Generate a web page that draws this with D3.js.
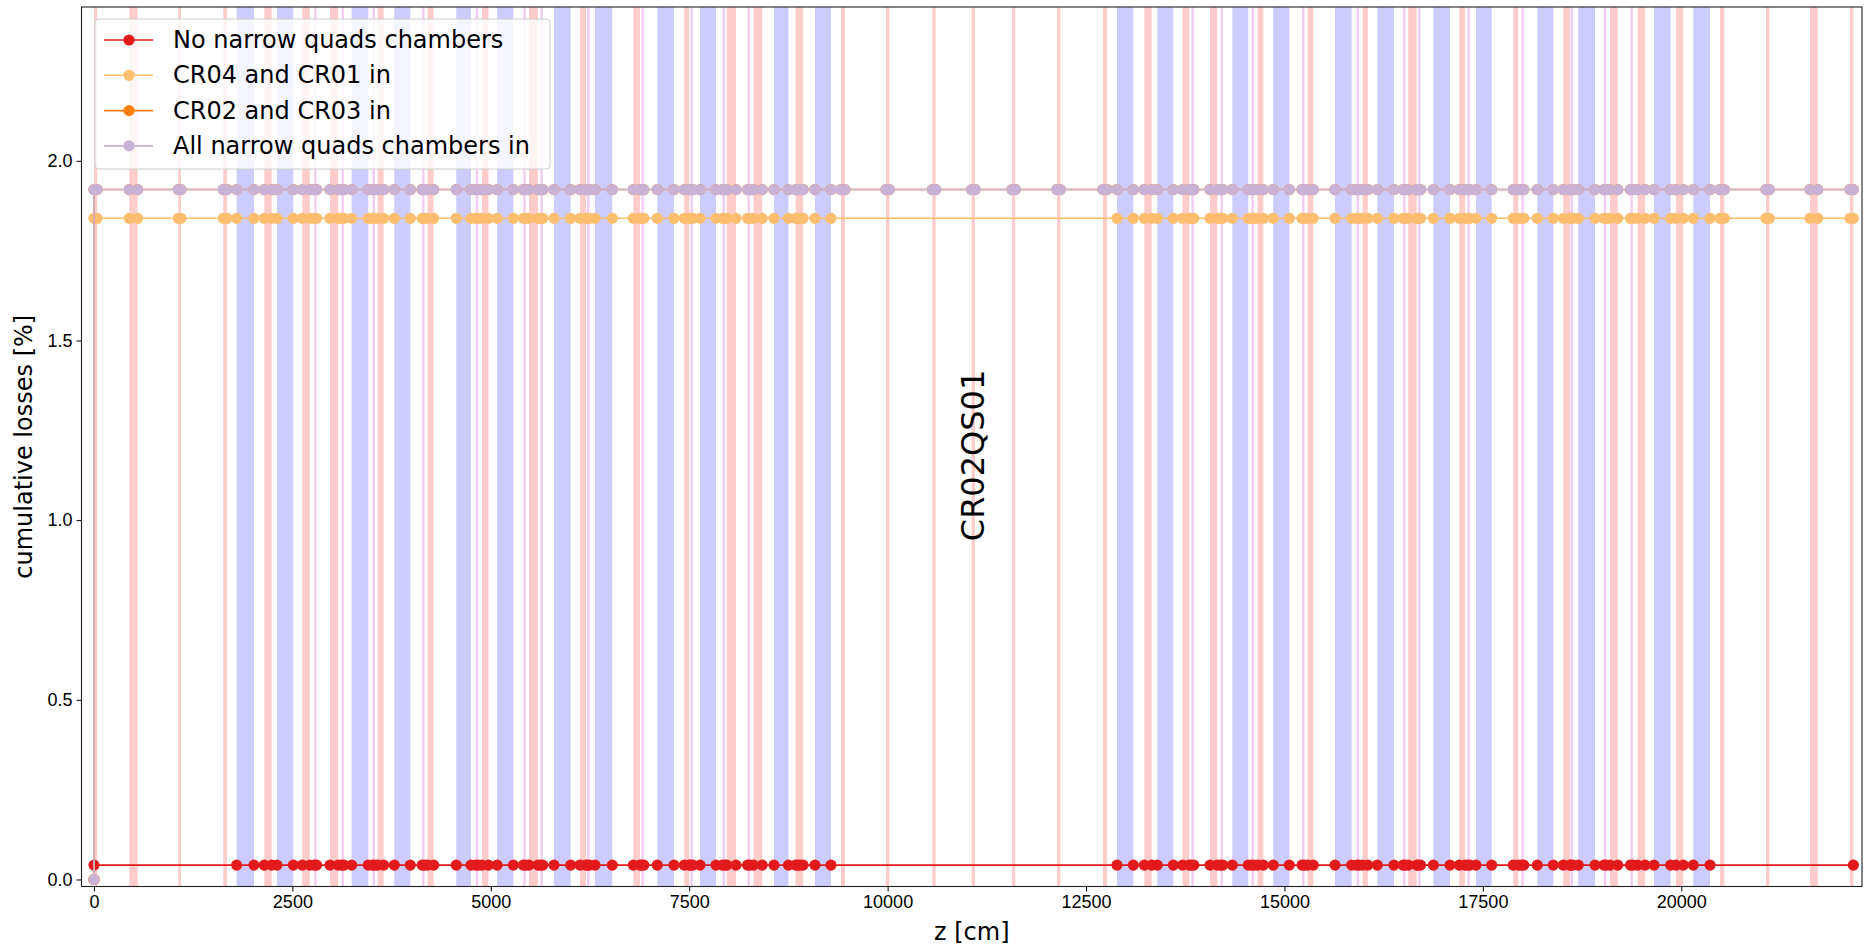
<!DOCTYPE html>
<html lang="en">
<head>
    <meta charset="UTF-8">
    <title>Cumulative losses along the ring</title>

    <script src="https://d3js.org/d3.v7.min.js"></script>

    <style>
        body { margin: 0; background: #fff; }
        svg { display: block; font-family: "DejaVu Sans", sans-serif; }
        .tick text { font-size: 18px; fill: #000; }
        .tick line { stroke: #000; }
        .legend_text { font-size: 24px; }
    </style>
</head>
<body>
<svg width="1866" height="945"></svg>

<script>
    // lattice elements along z [cm]
    const quads = [[0,40],[445,550],[1062,1096],[1630,1676],[2146,2239],[2625,2720],[2974,3076],[3575,3650],
        [4204,4280],[4889,4970],[5481,5594],[6124,6199],[6796,6880],[7438,7501],[7975,8089],[8310,8420],
        [8840,8935],[9412,9463],[9979,10021],[10563,10605],[11059,11101],[11567,11608],[12134,12176],
        [12713,12764],[13234,13327],[13717,13801],[14062,14154],[14660,14734],[15293,15363],[15985,16050],
        [16560,16666],[17203,17275],[17883,17946],[18513,18598],[19102,19199],[19450,19543],[19933,20025],
        [20488,20542],[21067,21109],[21622,21719],[22126,22168]];
    const dipoles = [[1798,2016],[2306,2512],[3247,3456],[3784,3986],[4565,4750],[5080,5284],[5796,6006],
        [6313,6531],[7098,7308],[7636,7837],[8568,8750],[9085,9286],[12890,13096],[13398,13600],
        [14343,14544],[14859,15061],[15637,15847],[16170,16380],[16876,17086],[17413,17611],[18186,18387],
        [18702,18913],[19656,19866],[20151,20362]];
    const sextupoles = [2790,3135,3525,4150,4825,5425,5640,6228,6913,7531,7935,8250,8880,
        13843,14209,14600,15237,15925,16510,16700,17320,18000,18620,19040,19375];
    const sextLength = 30;

    // loss series
    const seriesNames = ["No narrow quads chambers", "CR04 and CR01 in", "CR02 and CR03 in", "All narrow quads chambers in"];
    const seriesColors = ["#e31a1c", "#fdbf6f", "#ff7f00", "#cab2d6"];
    const seriesLevels = [0.04, 1.84, 1.92, 1.92];
    // z ranges where a series has no sample
    const seriesGaps = [[[1,1790],[9290,12880],[20370,22160]], [[9290,12880]], [], []];

    const xTicks = [0, 2500, 5000, 7500, 10000, 12500, 15000, 17500, 20000];
    const yTicks = [0.0, 0.5, 1.0, 1.5, 2.0];
    const label = {text: "CR02QS01", z: 11080, y: 1.18};

    let svg = d3.select("svg");
    const pLeft = 81.5, pRight = 1862, pTop = 7, pBottom = 886.5;

    const x = d3.scaleLinear().domain([-157, 22277]).range([pLeft, pRight]);
    const y = d3.scaleLinear().domain([-0.0195, 2.428]).range([pBottom, pTop]);

    svg.append("clipPath").attr("id", "plot")
        .append("rect").attr("x", pLeft).attr("y", pTop)
        .attr("width", pRight - pLeft).attr("height", pBottom - pTop);

    let plot = svg.append("g").attr("clip-path", "url(#plot)");

    // element bands
    function bands(data, color) {
        plot.append("g").selectAll("rect")
            .data(data)
            .join("rect")
            .attr("x", d => x(d[0]))
            .attr("width", d => Math.max(x(d[1]) - x(d[0]), 1))
            .attr("y", pTop)
            .attr("height", pBottom - pTop)
            .attr("fill", color);
    }
    bands(sextupoles.map(c => [c - sextLength / 2, c + sextLength / 2]), "#f2cdf2");
    bands(dipoles, "#ccccff");
    bands(quads, "#ffcccc");

    // sample positions = element edges
    let edges = [];
    quads.forEach(d => edges.push(d[0], d[1]));
    dipoles.forEach(d => edges.push(d[0], d[1]));
    sextupoles.forEach(c => edges.push(c - sextLength / 2, c + sextLength / 2));
    edges = Array.from(new Set(edges)).sort((a, b) => a - b);

    const line = d3.line().x(d => x(d[0])).y(d => y(d[1]));

    seriesNames.forEach(function (name, i) {
        let pts = [[0, 0]];
        edges.forEach(function (z) {
            let skip = seriesGaps[i].some(g => z >= g[0] && z <= g[1]);
            if (!skip) pts.push([z, seriesLevels[i]]);
        });
        let g = plot.append("g");
        g.append("path")
            .attr("d", line(pts))
            .attr("fill", "none")
            .attr("stroke", seriesColors[i])
            .attr("stroke-width", 1.6);
        g.selectAll("circle")
            .data(pts)
            .join("circle")
            .attr("cx", d => x(d[0]))
            .attr("cy", d => y(d[1]))
            .attr("r", 5.6)
            .attr("fill", seriesColors[i]);
    });

    // element name
    svg.append("text")
        .attr("transform", `translate(${x(label.z)},${y(label.y)}) rotate(-90)`)
        .attr("text-anchor", "middle")
        .attr("dominant-baseline", "central")
        .style("font-size", "32px")
        .text(label.text);

    // axes
    svg.append("g")
        .attr("transform", `translate(0,${pBottom})`)
        .call(d3.axisBottom(x).tickValues(xTicks).tickFormat(d3.format("d")).tickSize(5).tickPadding(4))
        .call(g => g.select(".domain").remove());
    svg.append("g")
        .attr("transform", `translate(${pLeft},0)`)
        .call(d3.axisLeft(y).tickValues(yTicks).tickFormat(d3.format(".1f")).tickSize(5).tickPadding(4))
        .call(g => g.select(".domain").remove());

    svg.append("rect")
        .attr("x", pLeft).attr("y", pTop)
        .attr("width", pRight - pLeft).attr("height", pBottom - pTop)
        .attr("fill", "none").attr("stroke", "#222").attr("stroke-width", 1.1);

    svg.append("text")
        .attr("x", (pLeft + pRight) / 2).attr("y", 932)
        .attr("text-anchor", "middle").attr("dominant-baseline", "central")
        .style("font-size", "24px")
        .text("z [cm]");
    svg.append("text")
        .attr("transform", `translate(24,${(pTop + pBottom) / 2}) rotate(-90)`)
        .attr("text-anchor", "middle").attr("dominant-baseline", "central")
        .style("font-size", "24px")
        .text("cumulative losses [%]");

    // legend
    let legend = svg.append("g");
    legend.append("rect")
        .attr("x", 95).attr("y", 19).attr("width", 455).attr("height", 150).attr("rx", 4)
        .attr("fill", "#fff").attr("fill-opacity", 0.8)
        .attr("stroke", "#cccccc").attr("stroke-width", 1);
    seriesNames.forEach(function (name, i) {
        let cy = 40 + i * 35.3;
        legend.append("line")
            .attr("x1", 104).attr("x2", 153).attr("y1", cy).attr("y2", cy)
            .attr("stroke", seriesColors[i]).attr("stroke-width", 1.6);
        legend.append("circle")
            .attr("cx", 129).attr("cy", cy).attr("r", 5.6)
            .attr("fill", seriesColors[i]);
        legend.append("text")
            .attr("class", "legend_text")
            .attr("x", 173).attr("y", cy)
            .attr("dominant-baseline", "central")
            .text(name);
    });
</script>
</body>
</html>
